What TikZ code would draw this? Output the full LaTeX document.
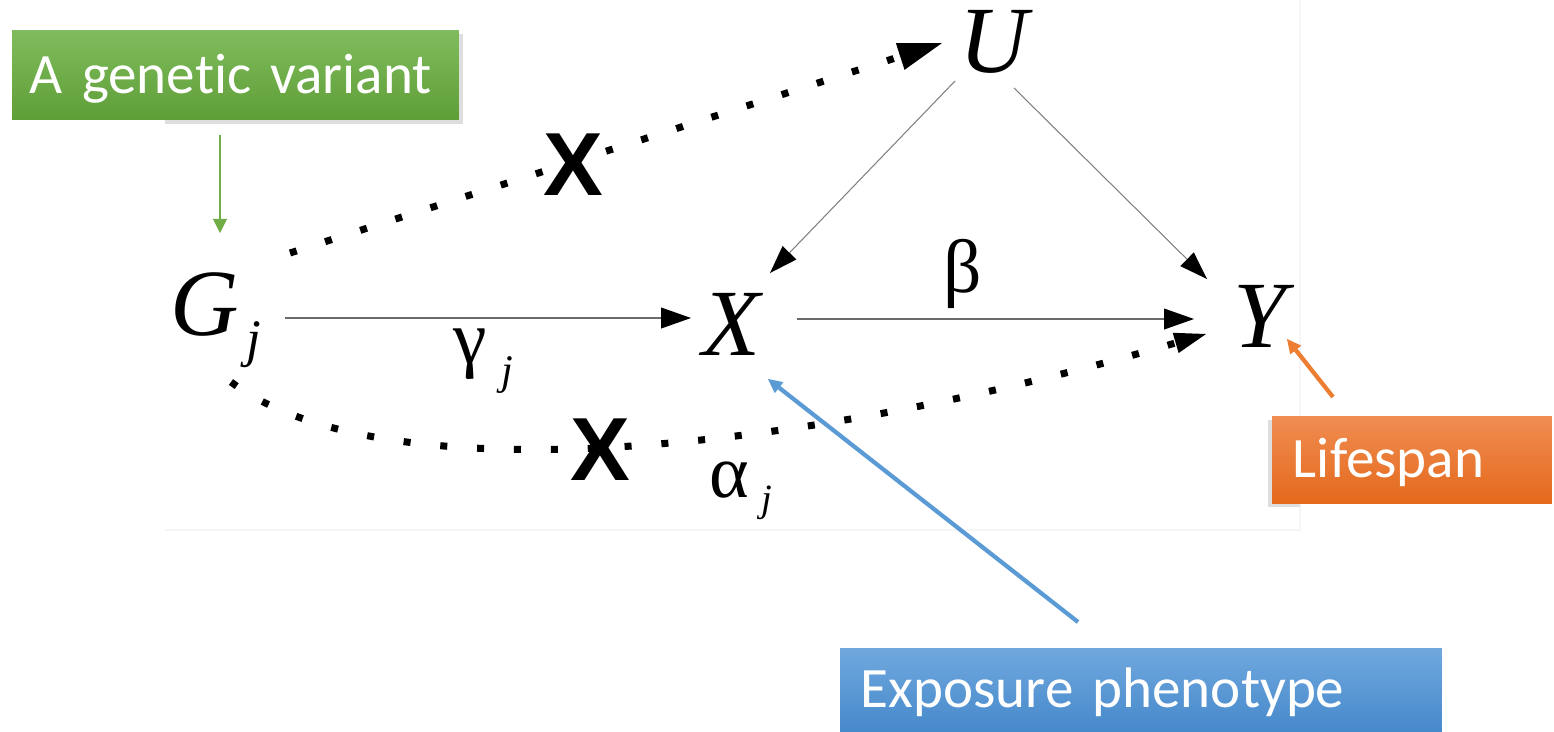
\documentclass[tikz,border=0pt]{standalone}
\usepackage{fontspec}
\setmainfont{Liberation Serif}
\newfontfamily\calib[Ligatures=NoCommon]{Carlito}
\newfontfamily\arialf{Liberation Sans}
\usetikzlibrary{arrows.meta}
\definecolor{gtop}{HTML}{80BC5D}
\definecolor{gbot}{HTML}{5E9E37}
\definecolor{otop}{HTML}{F08D52}
\definecolor{obot}{HTML}{E4691B}
\definecolor{btop}{HTML}{70A8DE}
\definecolor{bbot}{HTML}{4689CB}
\definecolor{garr}{HTML}{70AD47}
\definecolor{oarr}{HTML}{ED7D31}
\definecolor{barr}{HTML}{5B9BD5}
\definecolor{edgegray}{HTML}{6A6A6A}
\definecolor{thingray}{HTML}{808080}
\begin{document}
\begin{tikzpicture}[x=0.02cm,y=-0.02cm,
  var/.style={inner sep=0pt,anchor=base,font=\fontsize{54pt}{60pt}\selectfont\itshape},
  subj/.style={inner sep=0pt,anchor=base,font=\fontsize{#1}{#1}\selectfont\itshape},
  greek/.style={inner sep=0pt,anchor=base,font=\fontsize{43pt}{48pt}\selectfont},
  cross/.style={inner sep=0pt,font=\arialf\bfseries\fontsize{51pt}{56pt}\selectfont},
  callout/.style={inner ysep=0pt,text=white,align=left,
    font=\calib\fontsize{32.5pt}{38pt}\selectfont,text height=28pt,text depth=7pt},
  mainarrow/.style={draw=edgegray,line width=1.1pt,
    -{Triangle[length=17pt,width=12pt,color=black,line width=0pt]}},
  sidearrow/.style={draw=thingray,line width=0.6pt,
    -{Triangle[length=16pt,width=11pt,color=black,line width=0pt]}},
  dotline/.style={line width=4pt,dash pattern=on 4pt off 17pt},
  pointer/.style={draw=#1,line width=2.4pt,
    -{Triangle[length=8pt,width=8pt,line width=0pt]}}
]
\useasboundingbox (0,0) rectangle (1554,731);
\fill[white] (0,0) rectangle (1554,731);

% faint border of the pasted picture
\draw[black!4,line width=0.6pt] (165,530) -- (1300,530) -- (1300,0);

% variables
\node[var] (G) at (205,335) {G};
\node[subj=30pt] (Gj) at (254,356) {j};
\node[var] (X) at (731,355) {X};
\node[var] (U) at (994,72) {U};
\node[var] (Y) at (1260,347) {Y};

% parameters
\node[greek] (gam) at (470,363) {γ};
\node[subj=24pt] (gamj) at (507,384) {j};
\node[greek] (bet) at (963,292) {β};
\node[greek] (alp) at (729,497) {α};
\node[subj=22pt] (alpj) at (767,511) {j};

% connector end points
\coordinate (gxS) at (285,318);
\coordinate (gxE) at (691,318);
\coordinate (xyS) at (797,319);
\coordinate (xyE) at (1194,319);
\coordinate (uxS) at (955,81);
\coordinate (uxE) at (770,273);
\coordinate (uyS) at (1014,88);
\coordinate (uyE) at (1207,279);
\coordinate (guS) at (290,253);
\coordinate (guE) at (942,43);
\coordinate (gyS) at (231,382);
\coordinate (gyE) at (1206,334);

% solid connectors
\draw[mainarrow] (gxS) -- (gxE);
\draw[mainarrow] (xyS) -- (xyE);
\draw[sidearrow] (uxS) -- (uxE);
\draw[sidearrow] (uyS) -- (uyE);

% dotted (excluded) connectors
\draw[dotline,-{Triangle[length=25pt,width=16pt,line width=0pt]}] (guS) -- (guE);
\draw[dotline,-{Triangle[length=18pt,width=12pt,line width=0pt]}]
  (gyS) .. controls (381,494.5) and (790,456) .. (gyE);

% crosses
\node[cross] (x1) at (573,165) {X};
\node[cross] (x2) at (600,450) {X};

% callout shadows
\fill[black!13] (165,34) rectangle (463,124);
\fill[black!13] (1268,420) rectangle (1300,507);

% callouts
\node[callout,top color=gtop,bottom color=gbot,inner xsep=10.2pt,
  minimum width=8.94cm,minimum height=1.8cm,text width=234pt] (gv) at (235.5,75) {A genetic variant};
\node[callout,top color=otop,bottom color=obot,inner xsep=11.9pt,
  minimum width=5.6cm,minimum height=1.74cm,text width=135.5pt] (life) at (1412,459.5) {Lifespan};
\node[callout,top color=btop,bottom color=bbot,inner xsep=11.9pt,
  minimum width=12.04cm,minimum height=1.66cm,text width=318.8pt] (expo) at (1141,689.5) {Exposure phenotype};

% callout pointers
\coordinate (gvS) at (220,135);
\coordinate (gvE) at (220,233);
\coordinate (lfS) at (1333,397);
\coordinate (lfE) at (1287,339);
\coordinate (exS) at (1078,622);
\coordinate (exE) at (768,379);
\draw[pointer=garr,line width=1.2pt] (gvS) -- (gvE);
\draw[pointer=oarr] (lfS) -- (lfE);
\draw[pointer=barr] (exS) -- (exE);
\end{tikzpicture}
\end{document}
